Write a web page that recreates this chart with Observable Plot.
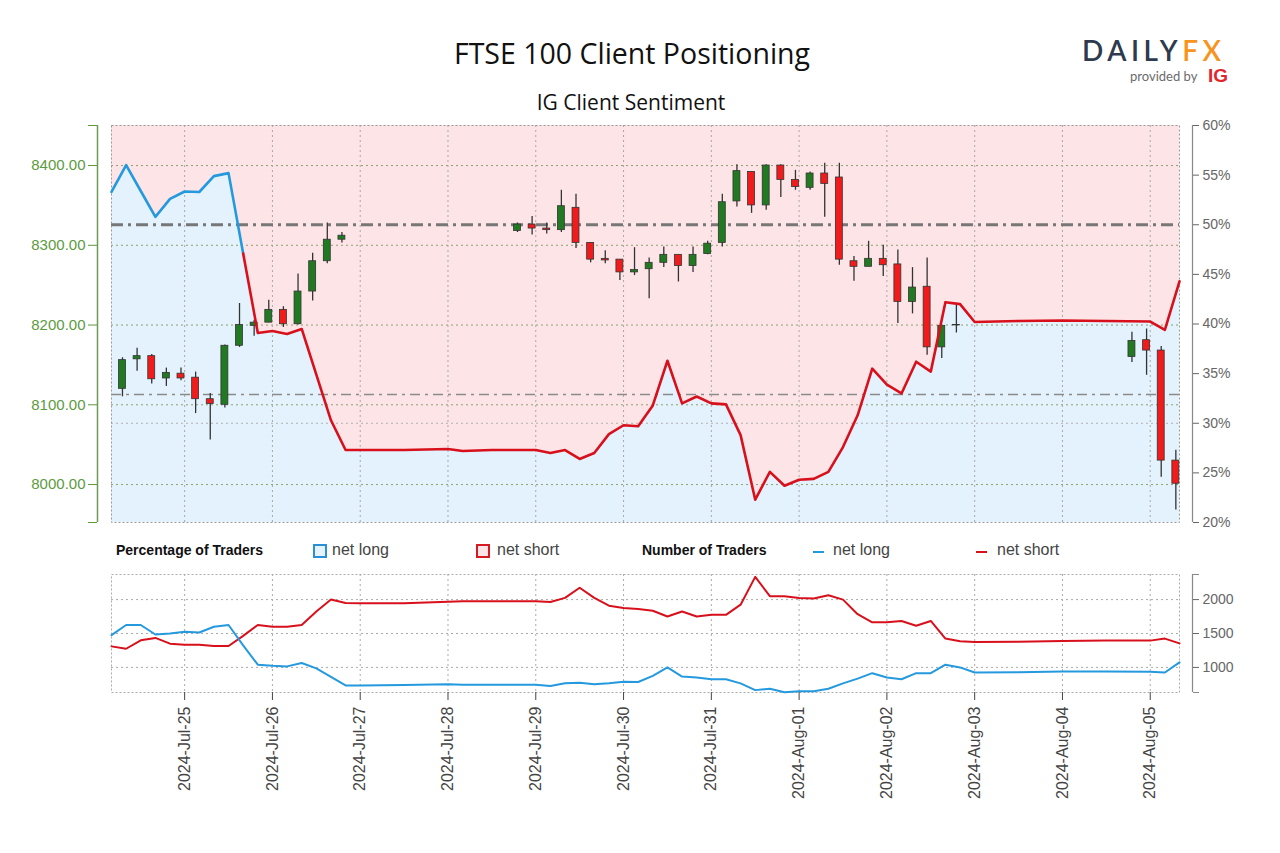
<!DOCTYPE html>
<html><head><meta charset="utf-8">
<script src="https://cdn.jsdelivr.net/npm/d3@7"></script>
<script src="https://cdn.jsdelivr.net/npm/@observablehq/plot@0.6"></script>
<style>
body{margin:0;background:#fff;}
#wrap{position:relative;width:1280px;height:853px;overflow:hidden;font-family:"Liberation Sans",Arial,sans-serif;}
.abs{position:absolute;white-space:nowrap;}
.sq{position:absolute;width:10px;height:10px;border:2px solid;}
.dash{position:absolute;width:11px;height:2px;}
</style></head><body><div id="wrap">
<div class="abs" style="left:0;width:1264px;top:33px;text-align:center;font:28.5px 'Open Sans',sans-serif;line-height:40px;color:#111;">FTSE 100 Client Positioning</div>
<div class="abs" style="left:0;width:1262px;top:88px;text-align:center;font:21px 'Open Sans',sans-serif;line-height:28px;color:#111;">IG Client Sentiment</div>
<div class="abs" style="left:1082px;top:37px;font:600 28px Lato,sans-serif;line-height:26px;letter-spacing:4.5px;"><span style="color:#2e3a4d">DAILY</span><span style="color:#f7941d">FX</span></div>
<div class="abs" style="left:1130px;top:68px;font:13px Lato,sans-serif;line-height:16px;color:#6b6b6b;">provided by</div>
<div class="abs" style="left:1208px;top:66px;font:700 19px 'Liberation Sans',sans-serif;line-height:19px;color:#e1252d;">IG</div>
<div id="main" class="abs" style="left:0;top:110px;"></div>
<div class="abs" style="left:116px;top:542px;font:700 14px 'Liberation Sans',sans-serif;color:#111;">Percentage of Traders</div>
<div class="sq" style="left:313px;top:544px;border-color:#2b8fd8;background:#e4f2fd;"></div>
<div class="abs" style="left:332px;top:541px;font:16px 'Liberation Sans',sans-serif;color:#444;">net long</div>
<div class="sq" style="left:476px;top:544px;border-color:#d51a22;background:#fde5e7;"></div>
<div class="abs" style="left:497px;top:541px;font:16px 'Liberation Sans',sans-serif;color:#444;">net short</div>
<div class="abs" style="left:642px;top:542px;font:700 14px 'Liberation Sans',sans-serif;color:#111;">Number of Traders</div>
<div class="dash" style="left:813px;top:551px;background:#2599de;"></div>
<div class="abs" style="left:833px;top:541px;font:16px 'Liberation Sans',sans-serif;color:#444;">net long</div>
<div class="dash" style="left:976px;top:551px;background:#d7101c;"></div>
<div class="abs" style="left:997px;top:541px;font:16px 'Liberation Sans',sans-serif;color:#444;">net short</div>
<div id="lower" class="abs" style="left:0;top:565px;"></div>
</div>
<script>
// ---- Candles (4-hour, FTSE 100) ----
const candleTimes = [
 "2024-07-24T07:00Z","2024-07-24T11:00Z","2024-07-24T15:00Z","2024-07-24T19:00Z","2024-07-24T23:00Z",
 "2024-07-25T03:00Z","2024-07-25T07:00Z","2024-07-25T11:00Z","2024-07-25T15:00Z","2024-07-25T19:00Z","2024-07-25T23:00Z",
 "2024-07-26T03:00Z","2024-07-26T07:00Z","2024-07-26T11:00Z","2024-07-26T15:00Z","2024-07-26T19:00Z",
 "2024-07-28T19:00Z","2024-07-28T23:00Z",
 "2024-07-29T03:00Z","2024-07-29T07:00Z","2024-07-29T11:00Z","2024-07-29T15:00Z","2024-07-29T19:00Z","2024-07-29T23:00Z",
 "2024-07-30T03:00Z","2024-07-30T07:00Z","2024-07-30T11:00Z","2024-07-30T15:00Z","2024-07-30T19:00Z","2024-07-30T23:00Z",
 "2024-07-31T03:00Z","2024-07-31T07:00Z","2024-07-31T11:00Z","2024-07-31T15:00Z","2024-07-31T19:00Z","2024-07-31T23:00Z",
 "2024-08-01T03:00Z","2024-08-01T07:00Z","2024-08-01T11:00Z","2024-08-01T15:00Z","2024-08-01T19:00Z","2024-08-01T23:00Z",
 "2024-08-02T03:00Z","2024-08-02T07:00Z","2024-08-02T11:00Z","2024-08-02T15:00Z","2024-08-02T19:00Z",
 "2024-08-04T19:00Z","2024-08-04T23:00Z",
 "2024-08-05T03:00Z","2024-08-05T07:00Z"];
const opens  = [8120,8157,8161,8133,8139, 8134,8107,8100,8174,8199,8203, 8219,8201,8242,8280,8307, 8318,8326, 8321,8319,8347,8303,8283,8282, 8266,8270,8278,8288,8274,8289, 8303,8355,8392,8350,8400,8382, 8372,8390,8385,8280,8273,8283, 8276,8229,8248,8172,8200, 8160,8181, 8168,8030];
const highs  = [8159,8171,8163,8146,8146, 8141,8114,8175,8227,8206,8231, 8223,8264,8290,8328,8316, 8328,8336, 8328,8369,8364,8303,8293,8282, 8297,8284,8298,8288,8298,8305, 8364,8401,8392,8401,8401,8394, 8392,8403,8403,8286,8305,8300, 8294,8272,8284,8199,8226, 8191,8195, 8173,8043];
const lows   = [8110,8142,8126,8123,8130, 8089,8056,8096,8172,8186,8203, 8197,8200,8230,8277,8303, 8316,8313, 8314,8316,8296,8278,8277,8256, 8262,8233,8272,8254,8266,8288, 8298,8348,8340,8344,8360,8369, 8369,8335,8275,8255,8273,8261, 8202,8214,8162,8158,8190, 8153,8137, 8009,7968];
const closes = [8156,8161,8132,8140,8133, 8107,8101,8174,8200,8203,8219, 8201,8242,8280,8307,8312, 8326,8321, 8319,8349,8303,8282,8281,8266, 8269,8278,8288,8274,8288,8302, 8354,8393,8350,8400,8382,8373, 8390,8377,8282,8273,8283,8275, 8229,8247,8172,8199,8199.5, 8180,8168, 8030,8001];

// ---- IG client sentiment ----
const sentTimes = [
 "2024-07-24T04:00Z","2024-07-24T08:00Z","2024-07-24T12:00Z","2024-07-24T16:00Z","2024-07-24T20:00Z",
 "2024-07-25T00:00Z","2024-07-25T04:00Z","2024-07-25T08:00Z","2024-07-25T12:00Z","2024-07-25T16:00Z","2024-07-25T20:00Z",
 "2024-07-26T00:00Z","2024-07-26T04:00Z","2024-07-26T08:00Z","2024-07-26T12:00Z","2024-07-26T16:00Z","2024-07-26T20:00Z",
 "2024-07-27T00:00Z","2024-07-27T12:00Z","2024-07-28T00:00Z","2024-07-28T04:00Z","2024-07-28T12:00Z","2024-07-28T20:00Z",
 "2024-07-29T00:00Z","2024-07-29T04:00Z","2024-07-29T08:00Z","2024-07-29T12:00Z","2024-07-29T16:00Z","2024-07-29T20:00Z",
 "2024-07-30T00:00Z","2024-07-30T04:00Z","2024-07-30T08:00Z","2024-07-30T12:00Z","2024-07-30T16:00Z","2024-07-30T20:00Z",
 "2024-07-31T00:00Z","2024-07-31T04:00Z","2024-07-31T08:00Z","2024-07-31T12:00Z","2024-07-31T16:00Z","2024-07-31T20:00Z",
 "2024-08-01T00:00Z","2024-08-01T04:00Z","2024-08-01T08:00Z","2024-08-01T12:00Z","2024-08-01T16:00Z","2024-08-01T20:00Z",
 "2024-08-02T00:00Z","2024-08-02T04:00Z","2024-08-02T08:00Z","2024-08-02T12:00Z","2024-08-02T16:00Z","2024-08-02T20:00Z",
 "2024-08-03T00:00Z","2024-08-03T12:00Z","2024-08-04T00:00Z","2024-08-04T12:00Z",
 "2024-08-05T00:00Z","2024-08-05T04:00Z","2024-08-05T08:00Z"];
const pctLong = [53.3,56.0,53.4,50.8,52.6, 53.35,53.3,54.9,55.2,47.1,39.1, 39.3,39.0,39.5,34.9,30.3,27.3, 27.3,27.3,27.4,27.2,27.3,27.3, 27.3,27.0,27.3,26.4,27.0,28.9, 29.8,29.7,31.8,36.3,32.0,32.7, 32.0,31.9,28.8,22.3,25.1,23.7, 24.3,24.4,25.1,27.6,30.8,35.5, 33.9,33.0,36.2,35.2,42.2,42.0, 40.2,40.3,40.35,40.3, 40.25,39.4,44.3];
const longCount = [1475,1625,1625,1485,1500, 1525,1515,1600,1625,1325,1040, 1025,1015,1065,985,860,735, 735,740,750,745,745,745, 745,725,765,775,750,765, 790,785,875,1000,865,850, 825,825,765,665,685,635, 650,650,685,765,835,915, 850,825,915,915,1040,1000, 925,930,940,940, 935,925,1075];
const shortCount = [1310,1275,1400,1435,1350, 1335,1335,1315,1315,1465,1625, 1600,1600,1625,1825,2000,1950, 1945,1945,1970,1975,1975,1975, 1975,1965,2025,2175,2025,1910, 1875,1860,1835,1750,1825,1750, 1775,1775,1925,2335,2050,2050, 2025,2015,2065,2000,1785,1665, 1665,1685,1615,1685,1425,1385, 1375,1380,1390,1395, 1395,1425,1355];

const dayTicks = ["2024-07-25","2024-07-26","2024-07-27","2024-07-28","2024-07-29","2024-07-30","2024-07-31","2024-08-01","2024-08-02","2024-08-03","2024-08-04","2024-08-05"];
const priceTicks = [8000,8100,8200,8300,8400];
const pctTicks = [20,25,30,35,40,45,50,55,60];
const countTicks = [1000,1500,2000];
const refPrice = 8113;

// ---- build ----
const xDomain = [new Date("2024-07-24T04:00Z"), new Date("2024-08-05T08:00Z")];
const yPrice = [7952.4, 8450.2];
const pctToPrice = d3.scaleLinear([20,60], yPrice);
const yCount = [630, 2370];
const days = dayTicks.map(d => new Date(d + "T00:00Z"));
const H = 3600e3;
const candles = candleTimes.map((t,i) => ({t:new Date(t), open:opens[i], high:highs[i], low:lows[i], close:closes[i]}));
const sent = sentTimes.map((t,i) => ({t:new Date(t), p:pctLong[i], long:longCount[i], short:shortCount[i]}));
const firstRed = pctLong.findIndex((v,i) => i>0 && pctLong[i-1] < 50);
const BLUE = "#2599de", RED = "#d7101c";
const font = "'Liberation Sans',Arial,sans-serif";

const main = Plot.plot({
  width:1280, height:420, marginLeft:111, marginRight:101, marginTop:15, marginBottom:8,
  style:{fontFamily:font, background:"transparent", overflow:"visible"},
  x:{type:"utc", domain:xDomain, axis:null, label:null},
  y:{domain:yPrice, label:null},
  marks:[
    Plot.areaY(sent, {x:"t", y1:d=>pctToPrice(d.p), y2:()=>yPrice[0], fill:"#e4f2fd"}),
    Plot.areaY(sent, {x:"t", y1:d=>pctToPrice(d.p), y2:()=>yPrice[1], fill:"#fde5e7"}),
    Plot.gridY(priceTicks, {stroke:"#7f9a5e", strokeOpacity:0.9, strokeDasharray:"2,3"}),
    Plot.gridY([pctToPrice(30)], {stroke:"#b0b0b0", strokeOpacity:1, strokeDasharray:"2,3"}),
    Plot.gridX(days, {stroke:"#a8a8a8", strokeOpacity:1, strokeDasharray:"2,3"}),
    Plot.ruleY([pctToPrice(50)], {stroke:"#777", strokeWidth:3, strokeDasharray:"12,5,3,5"}),
    Plot.ruleY([refPrice], {stroke:"#8a8a8a", strokeWidth:1.5, strokeDasharray:"10,5,3,5"}),
    Plot.frame({stroke:"#999", strokeDasharray:"2,2"}),
    Plot.ruleX(candles, {x:"t", y1:"low", y2:"high", stroke:"#333", strokeWidth:1.3}),
    Plot.rect(candles, {x1:d=>new Date(+d.t - 0.95*H), x2:d=>new Date(+d.t + 0.95*H), y1:"open", y2:"close",
      fill:d=>d.close>=d.open ? "#217a21" : "#f21b1b", stroke:"#333", strokeWidth:0.8}),
    Plot.line(sent.slice(0, firstRed), {x:"t", y:d=>pctToPrice(d.p), stroke:BLUE, strokeWidth:2.6}),
    Plot.line(sent.slice(firstRed-1), {x:"t", y:d=>pctToPrice(d.p), stroke:RED, strokeWidth:2.6}),
    Plot.ruleX([xDomain[0]], {x:d=>d, y1:()=>yPrice[0], y2:()=>yPrice[1], dx:-14, stroke:"#6c9c52", strokeWidth:1.5}),
    Plot.axisY(priceTicks, {anchor:"left", dx:-14, tickSize:9, tickPadding:3, tickFormat:d=>d.toFixed(2), color:"#5d9a3f", fontSize:15, label:null}),
    Plot.axisY(yPrice, {anchor:"left", dx:-14, tickSize:9, tickFormat:()=>"", color:"#5d9a3f", label:null}),
    Plot.ruleX([xDomain[1]], {x:d=>d, y1:()=>yPrice[0], y2:()=>yPrice[1], dx:13, stroke:"#888", strokeWidth:1.2}),
    Plot.axisY(pctTicks.map(pctToPrice), {anchor:"right", dx:13, tickSize:6, tickPadding:4, label:null,
      tickFormat:v=>Math.round(pctToPrice.invert(v)) + "%", color:"#666", fontSize:14})
  ]
});
document.getElementById("main").appendChild(main);

const lower = Plot.plot({
  width:1280, height:288, marginLeft:111, marginRight:101, marginTop:9, marginBottom:161,
  style:{fontFamily:font, background:"transparent", overflow:"visible"},
  x:{type:"utc", domain:xDomain, label:null},
  y:{domain:yCount, label:null},
  marks:[
    Plot.gridY(countTicks, {stroke:"#aaa", strokeOpacity:1, strokeDasharray:"2,3"}),
    Plot.gridX(days, {stroke:"#aaa", strokeOpacity:1, strokeDasharray:"2,3"}),
    Plot.frame({stroke:"#aaa", strokeDasharray:"2,2"}),
    Plot.line(sent, {x:"t", y:"short", stroke:RED, strokeWidth:2}),
    Plot.line(sent, {x:"t", y:"long", stroke:BLUE, strokeWidth:2}),
    Plot.ruleX([xDomain[1]], {x:d=>d, y1:()=>yCount[0], y2:()=>yCount[1], dx:13, stroke:"#888", strokeWidth:1.2}),
    Plot.axisY(countTicks, {anchor:"right", dx:13, tickSize:6, tickPadding:4, color:"#666", fontSize:14, tickFormat:d=>String(d), label:null}),
    Plot.axisY(yCount, {anchor:"right", dx:13, tickSize:6, tickFormat:()=>"", color:"#888", label:null}),
    Plot.axisX(days, {anchor:"bottom", tickSize:8, tickPadding:6, tickRotate:-90, tickFormat:d3.utcFormat("%Y-%b-%d"), color:"#444", fontSize:16, label:null})
  ]
});
document.getElementById("lower").appendChild(lower);
</script>
</body></html>
